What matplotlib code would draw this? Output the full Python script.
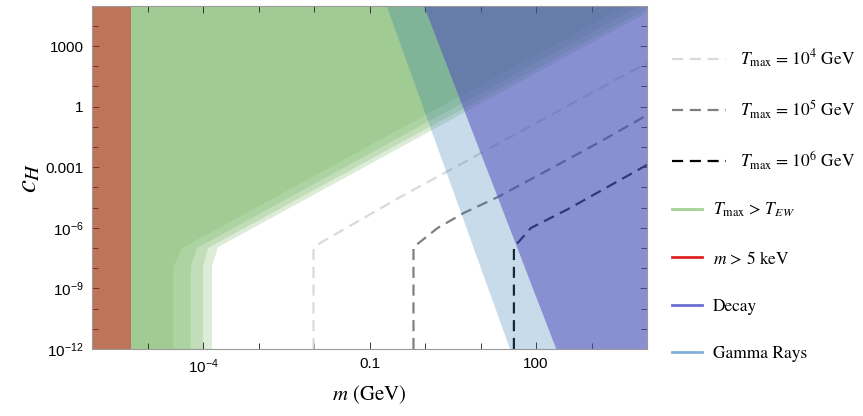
import numpy as np
import matplotlib
matplotlib.use('Agg')
import matplotlib.pyplot as plt
from matplotlib.lines import Line2D
from matplotlib.ticker import FixedLocator, FixedFormatter, NullFormatter

plt.rcParams['mathtext.fontset'] = 'stix'
plt.rcParams['font.family'] = ['Liberation Sans', 'DejaVu Sans']

# axis ranges
m_lim = [1e-6, 1e4]
c_lim = [1e-12, 1e5]

# T_max > T_EW region, four nested shades
m_vert = [2.9e-5, 6.0e-5, 1.0e-4, 1.45e-4]
c_vert_top = [1.15e-8, 1.15e-8, 1.15e-8, 1.2e-8]
m_kink = [4.2e-5, 7.8e-5, 1.23e-4, 1.86e-4]
c_kink = [1.0e-7, 1.0e-7, 1.0e-7, 1.1e-7]
c_edge = [3.7e5, 1.5e5, 7.4e4, 4.5e4]   # value at m = 1e4

# m > 5 keV
m_keV = 5e-6

# gamma rays band, edges at top (c=1e5) and bottom (c=1e-12)
gam_left = [0.203, 34.0]
gam_right = [0.95, 231.0]

# T_max contours
T4_m = [0.0098, 0.0098, 0.013, 0.36, 575, 1e4]
T4_c = [1e-12, 7.9e-8, 1.8e-7, 3.35e-5, 2.1, 144]
T5_m = [0.62, 0.62, 1.69, 4.98, 20.5, 164, 1315, 1e4]
T5_c = [1e-12, 1.1e-7, 9.8e-7, 5.4e-6, 3.35e-5, 7.2e-4, 1.6e-2, 0.38]
T6_m = [40, 40, 81, 380, 1e4]
T6_c = [1e-12, 1.1e-7, 9.8e-7, 8.5e-6, 1.3e-3]

xticks = [1e-4, 0.1, 100]
xtick_labels = [r'$\mathregular{10^{-4}}$', '0.1', '100']
yticks = [1e3, 1, 1e-3, 1e-6, 1e-9, 1e-12]
ytick_labels = ['1000', '1', '0.001', r'$\mathregular{10^{-6}}$',
                r'$\mathregular{10^{-9}}$', r'$\mathregular{10^{-12}}$']

green = '#78b665'
red = '#db1f22'
gamma_col = '#2373af'
decay_col = '#4450b8'

fig = plt.figure(figsize=(8.63, 4.16), dpi=100)
ax = fig.add_axes([92/863, 1-349/416, 555/863, 343.4/416])
ax.set_xscale('log')
ax.set_yscale('log')

for i in range(4):
    ax.fill([m_lim[0], m_vert[i], m_vert[i], m_kink[i], m_lim[1], m_lim[1], m_lim[0]],
            [c_lim[0], c_lim[0], c_vert_top[i], c_kink[i], c_edge[i], 1e7, 1e7],
            color=green, alpha=0.26, lw=0, zorder=1)

ax.axvspan(m_lim[0], m_keV, color=red, alpha=0.5, lw=0, zorder=2)

dash = (0, (5, 3))
ax.plot(T4_m, T4_c, ls=dash, lw=1.6, color='#dadada', zorder=3)
ax.plot(T5_m, T5_c, ls=dash, lw=1.6, color='#808080', zorder=3)
ax.plot(T6_m, T6_c, ls=dash, lw=1.6, color='#111111', zorder=3)

ax.fill([gam_left[0], gam_left[1], gam_right[1], gam_right[0]],
        [c_lim[1], c_lim[0], c_lim[0], c_lim[1]],
        color=gamma_col, alpha=0.25, lw=0, zorder=4)
ax.fill([gam_right[0], gam_right[1], m_lim[1], m_lim[1]],
        [c_lim[1], c_lim[0], c_lim[0], c_lim[1]],
        color=decay_col, alpha=0.63, lw=0, zorder=5)

ax.set_xlim(m_lim)
ax.set_ylim(c_lim)

# ticks
ax.xaxis.set_major_locator(FixedLocator(xticks))
ax.xaxis.set_major_formatter(FixedFormatter(xtick_labels))
ax.xaxis.set_minor_locator(FixedLocator(10.0**np.arange(-6, 5)))
ax.xaxis.set_minor_formatter(NullFormatter())
ax.yaxis.set_major_locator(FixedLocator(yticks))
ax.yaxis.set_major_formatter(FixedFormatter(ytick_labels))
ax.yaxis.set_minor_locator(FixedLocator(10.0**np.arange(-12, 6)))
ax.yaxis.set_minor_formatter(NullFormatter())
ax.tick_params(which='both', direction='in', top=True, right=True,
               color='#333333', width=0.7, labelsize=11, zorder=10)
ax.tick_params(which='major', length=5, pad=6)
ax.tick_params(which='minor', length=4)
for s in ax.spines.values():
    s.set_color('#999999')
    s.set_linewidth(0.8)
    s.set_zorder(10)

ax.set_ylabel(r'$c_H$', fontsize=21, rotation=90)
ax.yaxis.set_label_coords(-0.115, 0.5)
ax.yaxis.label.set_va('center')
ax.set_xlabel(r'$m$ (GeV)', fontsize=15, family='STIXGeneral')
ax.xaxis.set_label_coords(0.5, -0.133)
ax.xaxis.label.set_va('center')

# legend
leg_font = {'family': 'STIXGeneral', 'size': 12.5}
dashed_handles = [
    Line2D([], [], ls=dash, lw=1.6, color='#dadada', label=r'$T_{\rm max}$ = 10$^4$ GeV'),
    Line2D([], [], ls=dash, lw=1.6, color='#808080', label=r'$T_{\rm max}$ = 10$^5$ GeV'),
    Line2D([], [], ls=dash, lw=1.6, color='#000000', label=r'$T_{\rm max}$ = 10$^6$ GeV'),
]
solid_handles = [
    Line2D([], [], lw=2, color='#a5d296', label=r'$T_{\rm max}$ > $T_{EW}$'),
    Line2D([], [], lw=2, color='#e02424', label=r'$m$ > 5 keV'),
    Line2D([], [], lw=2, color='#6e6ed2', label='Decay'),
    Line2D([], [], lw=2, color='#82afd7', label='Gamma Rays'),
]
leg1 = ax.legend(handles=dashed_handles, loc='upper left', bbox_to_anchor=(672/863, 1-48/416),
                 bbox_transform=fig.transFigure, frameon=False, prop=leg_font,
                 handlelength=3.1, handletextpad=0.8, labelspacing=1.63,
                 borderpad=0, borderaxespad=0)
ax.add_artist(leg1)
ax.legend(handles=solid_handles, loc='upper left', bbox_to_anchor=(672/863, 1-201/416),
          bbox_transform=fig.transFigure, frameon=False, prop=leg_font,
          handlelength=1.7, handletextpad=0.65, labelspacing=1.8,
          borderpad=0, borderaxespad=0)

plt.savefig('out.png', dpi=100)
